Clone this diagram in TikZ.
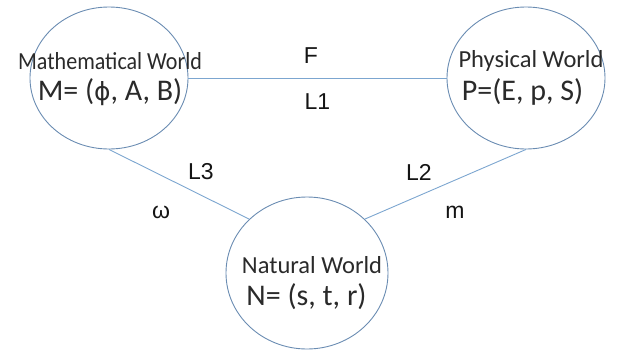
\documentclass[tikz,border=0pt]{standalone}
\usepackage{fontspec}
\usetikzlibrary{shapes.geometric}
\setmainfont{Liberation Sans}
\newfontfamily\innerfont{Carlito}
\newfontfamily\dejavu{DejaVu Sans}
\definecolor{ellcol}{HTML}{6A8CB2}
\definecolor{linecol}{HTML}{7CA6D0}
\definecolor{txtcol}{HTML}{2A2A2A}
\tikzset{
  world/.style={draw=ellcol, line width=0.9pt, ellipse, inner sep=0pt},
  titletxt/.style={font=\innerfont\fontsize{24.5}{26}\selectfont, text=txtcol, inner sep=0pt},
  eqtxt/.style={font=\innerfont\fontsize{30}{32}\selectfont, text=txtcol, inner sep=0pt},
  lbl/.style={font=\fontsize{23}{26}\selectfont, text=black!92, inner sep=0pt},
  conn/.style={draw=linecol, line width=0.9pt}
}
\begin{document}
\begin{tikzpicture}[x=1pt,y=-1pt]
\useasboundingbox (0,0) rectangle (619,349);
\node[world, minimum width=158pt, minimum height=142pt] (M) at (109,78) {};
\node[world, minimum width=158pt, minimum height=142pt] (P) at (526,78) {};
\node[world, minimum width=162pt, minimum height=152pt] (N) at (307,273) {};
\draw[conn] (M.east) -- (P.west);
\draw[conn] (M.south) -- (N.137);
\draw[conn] (P.south) -- (N.43);
\node[titletxt] (Mt) at (110,61) {\scalebox{0.9}[1]{Mathematical World}};
\node[eqtxt] (Me) at (110,92) {M= ({\dejavu\fontsize{25}{28}\selectfont ϕ}, A, B)};
\node[titletxt] (Pt) at (531,61) {Physical World};
\node[eqtxt] (Pe) at (522.5,92) {P=(E, p, S)};
\node[titletxt] (Nt) at (312,265) {Natural World};
\node[eqtxt] (Ne) at (306.5,297) {N= (s, t, r)};
\node[lbl] (F) at (311,56) {F};
\node[lbl] (L1) at (317.5,102) {L1};
\node[lbl] (L3) at (201,172) {L3};
\node[lbl] (om) at (161,212) {ω};
\node[lbl] (L2) at (419,172) {L2};
\node[lbl] (m) at (455,212) {m};
\end{tikzpicture}
\end{document}
